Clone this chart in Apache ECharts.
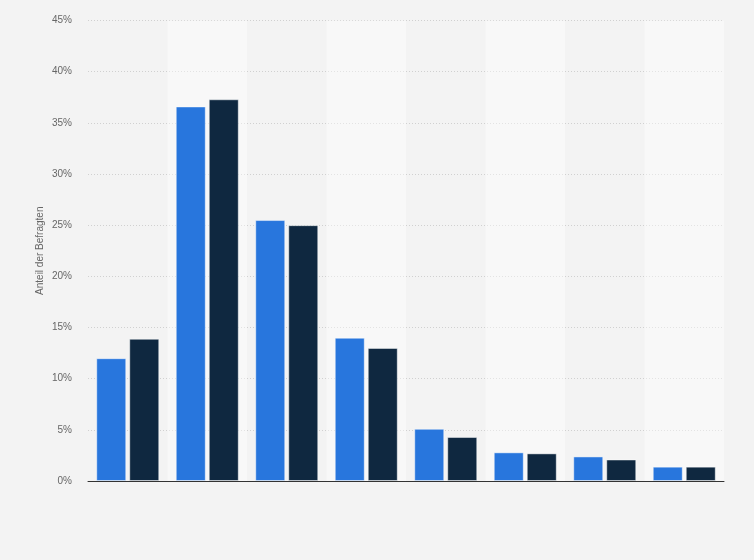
<!DOCTYPE html>
<html>
<head>
<meta charset="utf-8">
<script src="https://cdn.jsdelivr.net/npm/echarts@6/dist/echarts.min.js"></script>
<style>
  html, body { margin: 0; padding: 0; background: #f3f3f3; }
  #chart { width: 754px; height: 560px; }
</style>
</head>
<body>
<div id="chart"></div>
<script>
const categories = ['1', '2', '3', '4', '5', '6', '7', '8'];
const seriesA = [12.0, 36.6, 25.5, 14.0, 5.1, 2.8, 2.4, 1.4];
const seriesB = [13.9, 37.3, 25.0, 13.0, 4.3, 2.7, 2.1, 1.4];
const yTicks = { min: 0, max: 45, interval: 5 };

const chart = echarts.init(document.getElementById('chart'));

const barStyle = color => ({
  color,
  borderColor: 'rgba(255,255,255,0.45)',
  borderWidth: 1
});

chart.setOption({
  backgroundColor: '#f3f3f3',
  animation: false,
  grid: { left: 88, right: 30, top: 20.5, bottom: 79 },
  xAxis: {
    type: 'category',
    data: categories,
    axisTick: { show: false },
    axisLabel: { show: false },
    axisLine: { lineStyle: { color: '#333', width: 1 } },
    splitArea: {
      show: true,
      areaStyle: { color: ['rgba(255,255,255,0)', 'rgba(255,255,255,0.4)'] }
    }
  },
  yAxis: {
    type: 'value',
    min: yTicks.min,
    max: yTicks.max,
    interval: yTicks.interval,
    name: 'Anteil der Befragten',
    nameLocation: 'middle',
    nameGap: 43,
    nameMoveOverlap: false,
    nameTextStyle: { color: '#666', fontSize: 10, fontFamily: 'Liberation Sans' },
    axisLine: { show: false },
    axisTick: { show: false },
    axisLabel: {
      color: '#666',
      fontSize: 10,
      fontFamily: 'Liberation Sans',
      margin: 16,
      formatter: '{value}%'
    },
    splitLine: { lineStyle: { color: '#d0d0d0', type: [1, 2] } }
  },
  series: [
    {
      type: 'bar',
      data: seriesA,
      barWidth: 30,
      barGap: '10%',
      itemStyle: barStyle('#2876dd')
    },
    {
      type: 'bar',
      data: seriesB,
      barWidth: 30,
      barGap: '10%',
      itemStyle: barStyle('#0f2840')
    }
  ]
});
</script>
</body>
</html>
